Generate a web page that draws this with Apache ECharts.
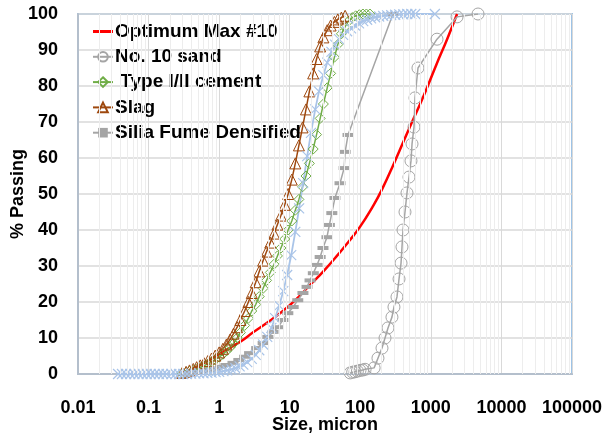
<!DOCTYPE html>
<html><head><meta charset="utf-8">
<script src="https://cdn.jsdelivr.net/npm/echarts@6/dist/echarts.min.js"></script>
<style>html,body{margin:0;padding:0;background:#fff}#c{width:607px;height:437px}</style>
</head><body><div id="c"></div>
<script>
// ---- data (size in micron, % passing) ----
const seriesNames = ['Optimum Max #10', 'No. 10 sand', ' Type I/II cement', 'Slag', 'Silia Fume Densified', 'Fly ash'];
const xTickLabels = ['0.01', '0.1', '1', '10', '100', '1000', '10000', '100000'];
const minorMultiples = [2, 3, 4, 5, 6, 7, 8, 9];
const decadeStarts = [0.01, 0.1, 1, 10, 100, 1000, 10000];

const optimum = [[0.28,0],[0.5,2.2],[1,5.5],[2,9],[3,11.5],[5,14.5],[8,17.5],[12,20.5],[20,25],[30,28.5],[50,33.5],[70,37],[100,41],[150,46.5],[200,51],[300,58.5],[500,68.5],[800,77.5],[1200,86],[1700,93],[2350,100]];

const sand = [[72,0.3],[78,0.5],[84,0.6],[91,0.8],[99,1.0],[108,1.1],[117,1.3],[157,1.7],[178,4.4],[203,7.2],[224,10],[247,12.8],[281,15.8],[300,18.6],[331,21.4],[354,26.4],[378,30.8],[390,35.3],[403,40],[430,45],[459,50.3],[490,54.7],[523,59.2],[541,63.9],[577,68.6],[596,76.7],[657,85],[1222,93],[2350,99.2],[4660,100]];

const cement = [[0.30,0.2],[0.34,0.4],[0.38,0.7],[0.43,1.0],[0.48,1.4],[0.54,1.8],[0.61,2.3],[0.69,2.8],[0.78,3.4],[0.88,4.0],[1.0,4.7],[1.13,5.5],[1.27,6.4],[1.43,7.4],[1.6,8.5],[1.8,10.0],[2.0,11.5],[2.3,13.5],[2.6,15.5],[2.9,17.5],[3.3,19.3],[3.7,21.5],[4.2,23.8],[4.7,26],[5.3,28.2],[6.0,30.5],[6.7,32.8],[7.5,35],[8.5,37.5],[9.5,40],[10.7,42.5],[12,45.5],[13.5,48.5],[15.2,52],[17,55],[19,58.5],[21.5,62.5],[24,66.5],[27,71],[30,75],[34,79.5],[38,83.5],[43,88],[48,91.5],[54,94.5],[61,96.5],[68,98],[77,99],[86,99.5],[97,99.8],[109,100],[122,100],[137,100]];

const slag = [[0.30,0.3],[0.34,0.6],[0.38,1.0],[0.43,1.4],[0.48,1.9],[0.54,2.4],[0.61,3.0],[0.69,3.6],[0.78,4.3],[0.88,5.1],[1.0,6.0],[1.13,7.0],[1.27,8.2],[1.43,9.6],[1.6,11.2],[1.8,13],[2.0,15],[2.3,17.5],[2.6,20],[2.9,22.5],[3.3,25.5],[3.7,28.5],[4.2,31.5],[4.7,34],[5.3,36.5],[6.0,39],[6.7,41.5],[7.5,44],[8.5,47],[9.5,50],[10.7,54],[12,58.5],[13.5,63.5],[15.2,68.5],[17,73.5],[19,78.5],[21.5,83.5],[24,87.5],[27,91],[30,93.5],[34,95.5],[38,96.8],[43,97.8],[48,98.5],[54,99],[61,99.5]];

const silicaFume = [[0.35,0],[0.42,0.3],[0.5,0.6],[0.6,0.8],[0.74,1.1],[0.88,1.5],[1.05,2.0],[1.25,2.5],[1.57,3.1],[1.9,3.9],[2.3,4.8],[2.7,5.8],[3.4,7.2],[4.2,8.6],[4.9,10.3],[5.8,11.7],[6.8,13],[8,15],[9.4,16.9],[11.2,18.6],[13,20.5],[15.4,22.5],[17.6,24.2],[19.4,26],[21.6,28],[24.4,30.3],[27,32.5],[29.6,35],[33.7,38],[36.5,41.4],[39.5,44.7],[43.7,48.9],[51.6,53],[59,57.2],[61,61.7],[67,66.4],[290,100]];

const flyAsh = [[0.037,0],[0.042,0],[0.048,0],[0.055,0],[0.063,0],[0.072,0],[0.082,0],[0.094,0],[0.107,0],[0.122,0],[0.14,0],[0.16,0],[0.18,0],[0.21,0],[0.24,0],[0.27,0],[0.31,0],[0.35,0],[0.40,0.1],[0.46,0.1],[0.52,0.2],[0.6,0.2],[0.68,0.3],[0.78,0.4],[0.89,0.5],[1.0,0.6],[1.15,0.8],[1.3,1.0],[1.5,1.3],[1.7,1.6],[1.95,2.1],[2.2,2.6],[2.5,3.3],[2.9,4.2],[3.3,5.3],[3.7,6.6],[4.2,8.2],[4.8,10.3],[5.5,12.8],[6.2,15.5],[7.1,19],[8.1,23],[9.2,27.5],[10.5,33],[12,39.5],[13.6,46],[15.5,53],[17.7,60.5],[20,67],[23,73.5],[26,78.5],[30,83],[34,86.5],[39,89.5],[44,91.5],[50,93],[57,94.2],[65,95.2],[74,96],[84,96.8],[96,97.4],[110,98],[125,98.4],[142,98.8],[162,99.1],[185,99.3],[211,99.5],[240,99.6],[274,99.7],[312,99.8],[356,99.9],[406,99.9],[463,100],[528,100],[602,100],[1140,100]];

// ---- chart ----
const FONT = 'Liberation Sans';
const minorLines = [];
decadeStarts.forEach(d => minorMultiples.forEach(m => minorLines.push({ xAxis: d * m })));

const chart = echarts.init(document.getElementById('c'), null, { renderer: 'canvas' });
chart.setOption({
  animation: false,
  backgroundColor: '#ffffff',
  grid: { left: 78, right: 35, top: 14, bottom: 63, outerBoundsMode: 'none', containLabel: false,
    show: true, borderColor: '#9DC3E6', borderWidth: 2, backgroundColor: 'transparent' },
  legend: {
    data: [
      { name: seriesNames[0], icon: 'path://M0,0H20V3H0Z' },
      seriesNames[1], seriesNames[2], seriesNames[3], seriesNames[4]
    ],
    orient: 'vertical', left: 87, top: 17,
    itemWidth: 20, itemHeight: 12, itemGap: 6.3,
    textStyle: { fontFamily: FONT, fontWeight: 'bold', fontSize: 19, color: '#000', lineHeight: 18.5, padding: [0, 0, 0, -3] }
  },
  xAxis: {
    type: 'log', logBase: 10, min: 0.01, max: 100000,
    name: 'Size, micron', nameLocation: 'middle', nameGap: 42, nameMoveOverlap: false,
    nameTextStyle: { fontFamily: FONT, fontWeight: 'bold', fontSize: 18, color: '#000' },
    axisLine: { show: true, onZero: false, lineStyle: { color: '#B4BFCC', width: 2 } },
    axisTick: { show: false },
    axisLabel: { fontFamily: FONT, fontWeight: 'bold', fontSize: 18, color: '#000', margin: 25,
      formatter: v => { const s = xTickLabels.find(t => Math.abs(Math.log10(+t) - Math.log10(v)) < 1e-6); return s || ''; } },
    splitLine: { show: true, lineStyle: { color: '#D9D9D9', width: 1 } }
  },
  yAxis: {
    type: 'value', min: 0, max: 100, interval: 10,
    name: '% Passing', nameLocation: 'middle', nameGap: 51, nameRotate: 90, nameMoveOverlap: false,
    nameTextStyle: { fontFamily: FONT, fontWeight: 'bold', fontSize: 18, color: '#000' },
    axisLine: { show: true, lineStyle: { color: '#B4BFCC', width: 2 } },
    axisTick: { show: false },
    axisLabel: { fontFamily: FONT, fontWeight: 'bold', fontSize: 18, color: '#000', margin: 20 },
    splitLine: { show: true, lineStyle: { color: '#D9D9D9', width: 1.5 } }
  },
  series: [
    { name: 'minor-grid', type: 'line', data: [], silent: true, z: 0,
      markLine: { silent: true, symbol: 'none', label: { show: false }, animation: false,
        lineStyle: { color: '#EDEDED', width: 1, type: 'solid' }, data: minorLines } },
    { name: seriesNames[0], type: 'line', data: optimum, smooth: 0.5, showSymbol: false, symbol: 'none',
      lineStyle: { color: '#FF0000', width: 2.5 }, itemStyle: { color: '#FF0000' }, z: 3 },
    { name: seriesNames[1], type: 'line', data: sand, symbol: 'circle', symbolSize: 12,
      lineStyle: { color: '#A5A5A5', width: 1.5 }, itemStyle: { color: 'rgba(255,255,255,0)', borderColor: '#A5A5A5', borderWidth: 1 }, z: 3 },
    { name: seriesNames[2], type: 'line', data: cement, symbol: 'diamond', symbolSize: 10,
      lineStyle: { color: '#70AD47', width: 1.5 }, itemStyle: { color: 'rgba(255,255,255,0)', borderColor: '#70AD47', borderWidth: 1 }, z: 3 },
    { name: seriesNames[3], type: 'line', data: slag, symbol: 'triangle', symbolSize: 11,
      lineStyle: { color: '#9E480E', width: 1.5 }, itemStyle: { color: 'rgba(255,255,255,0)', borderColor: '#9E480E', borderWidth: 1 }, z: 3 },
    { name: seriesNames[4], type: 'line', data: silicaFume, symbol: 'rect', symbolSize: [11, 4],
      lineStyle: { color: '#A5A5A5', width: 1.5 }, itemStyle: { color: '#A5A5A5' }, z: 3 },
    { name: seriesNames[5], type: 'line', data: flyAsh, symbol: 'path://M0,0L10,10M10,0L0,10', symbolSize: 10,
      lineStyle: { color: '#A9C4E8', width: 1.8 }, itemStyle: { color: 'rgba(255,255,255,0)', borderColor: '#A9C4E8', borderWidth: 1.2 }, z: 3 }
  ]
});
</script>
</body></html>
